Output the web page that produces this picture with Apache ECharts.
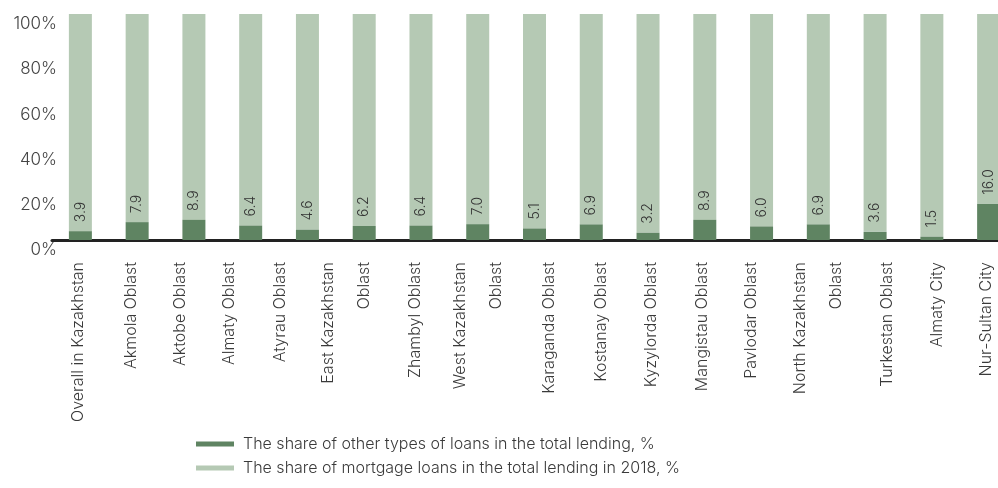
<!DOCTYPE html>
<html>
<head>
<meta charset="utf-8">
<script src="https://cdn.jsdelivr.net/npm/echarts@6/dist/echarts.min.js"></script>
<style>
  html, body { margin: 0; padding: 0; background: #fff; overflow: hidden; }
  /* the plot runs slightly past the right edge of the page, so the canvas is wider */
  #chart { width: 1020px; height: 488px; }
</style>
</head>
<body>
<div id="chart"></div>
<script>
// Regions of Kazakhstan, 2018
const regions = [
  'Overall in Kazakhstan', 'Akmola Oblast', 'Aktobe Oblast', 'Almaty Oblast',
  'Atyrau Oblast', 'East Kazakhstan\nOblast', 'Zhambyl Oblast', 'West Kazakhstan\nOblast',
  'Karaganda Oblast', 'Kostanay Oblast', 'Kyzylorda Oblast', 'Mangistau Oblast',
  'Pavlodar Oblast', 'North Kazakhstan\nOblast', 'Turkestan Oblast', 'Almaty City',
  'Nur-Sultan City'
];

// Share of other types of loans in total lending, %
const otherLoans = [3.9, 7.9, 8.9, 6.4, 4.6, 6.2, 6.4, 7.0, 5.1, 6.9, 3.2, 8.9, 6.0, 6.9, 3.6, 1.5, 16.0];

// Share of mortgage loans in total lending, % (remainder to 100)
const mortgageLoans = otherLoans.map(v => +(100 - v).toFixed(1));

const seriesNames = [
  'The share of other types of loans in the total lending, %',
  'The share of mortgage loans in the total lending in 2018, %'
];

const yTicks = { min: 0, max: 100, step: 20 };

// Sideways nudge (px, + = right) for each rotated category label
const labelNudge = [-2, -6, -14, -21, -27, -18, -6, 0, 15, 10, 3, -3, -10, 0, 12, 5, -2];

const FONT = 'Inter, Lato, sans-serif';
const DARK = '#5f8462';
const LIGHT = '#b5c9b4';
const LINE_GAP = 36;

// Rotated 90°, the label's local vertical axis runs left-to-right on screen,
// so vertical alignment plus line height slides the text sideways.
function labelStyle(name, shift) {
  if (name.indexOf('\n') >= 0) {
    return { lineHeight: LINE_GAP, verticalAlign: 'middle' };
  }
  if (shift === 0) return { verticalAlign: 'middle' };
  return {
    verticalAlign: shift > 0 ? 'top' : 'bottom',
    lineHeight: Math.abs(shift) * 2
  };
}

const categoryData = regions.map((name, i) => ({
  value: name,
  textStyle: labelStyle(name, labelNudge[i])
}));

const chart = echarts.init(document.getElementById('chart'), null, { renderer: 'canvas' });

chart.setOption({
  animation: false,
  backgroundColor: '#ffffff',
  textStyle: { fontFamily: FONT },
  grid: { left: 52, right: 3, top: 14, bottom: 248, containLabel: false },
  legend: {
    orient: 'vertical',
    left: 196,
    top: 436,
    padding: 0,
    itemWidth: 38,
    itemHeight: 5,
    itemGap: 8,
    icon: 'rect',
    textStyle: { fontFamily: FONT, fontSize: 16, fontWeight: 300, color: '#3a3a3a', padding: [0, 0, 0, 4] },
    data: seriesNames
  },
  xAxis: {
    type: 'category',
    data: categoryData,
    axisLine: { show: true, lineStyle: { color: '#222', width: 3 } },
    axisTick: { show: false },
    axisLabel: {
      interval: 0,
      rotate: 90,
      margin: 22,
      fontSize: 16,
      fontWeight: 300,
      color: '#3a3a3a',
      fontFamily: FONT,
      formatter: (value, index) => {
        // extra blank line pulls the two-line East Kazakhstan label leftwards
        const pad = value.indexOf('\n') >= 0 && labelNudge[index] < 0 ? '\n' : '';
        return value + pad;
      }
    }
  },
  yAxis: {
    type: 'value',
    min: yTicks.min,
    max: yTicks.max,
    interval: yTicks.step,
    axisLine: { show: false },
    axisTick: { show: false },
    splitLine: { show: false },
    axisLabel: {
      formatter: '{value}%',
      fontSize: 17,
      fontWeight: 300,
      color: '#444',
      margin: -5,
      verticalAlign: 'top',
      lineHeight: 20,
      fontFamily: FONT
    }
  },
  series: [
    {
      name: seriesNames[0],
      type: 'bar',
      stack: 'total',
      barWidth: 23,
      data: otherLoans,
      itemStyle: { color: DARK },
      label: {
        show: true,
        position: 'top',
        rotate: 90,
        align: 'left',
        verticalAlign: 'middle',
        distance: 9,
        fontSize: 14,
        fontWeight: 300,
        color: '#333',
        fontFamily: FONT,
        formatter: p => p.value.toFixed(1)
      },
      z: 3
    },
    {
      name: seriesNames[1],
      type: 'bar',
      stack: 'total',
      barWidth: 23,
      data: mortgageLoans,
      itemStyle: { color: LIGHT },
      z: 2
    }
  ]
});
</script>
</body>
</html>
